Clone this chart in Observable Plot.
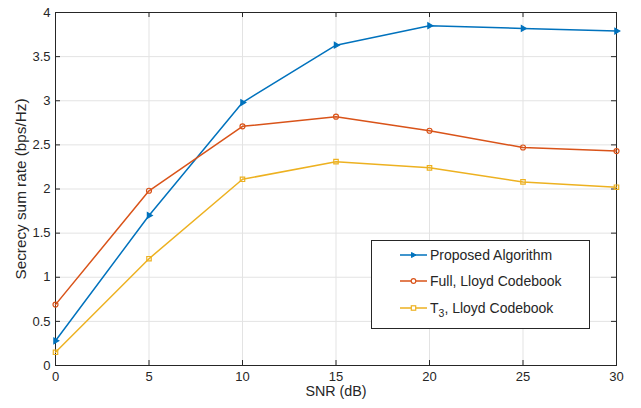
<!DOCTYPE html>
<html><head><meta charset="utf-8">
<script src="https://cdn.jsdelivr.net/npm/d3@7"></script>
<script src="https://cdn.jsdelivr.net/npm/@observablehq/plot@0.6"></script>
<style>
body{margin:0;background:#fff;font-family:"Liberation Sans",Arial,Helvetica,sans-serif}
#wrap{position:relative;width:641px;height:408px}
#legend{position:absolute;left:371px;top:240px;width:219px;height:89px;border:1px solid #262626;background:#fff;box-sizing:border-box}
.row{position:absolute;left:28px;height:20px;display:flex;align-items:center;font-size:14px;color:#262626;white-space:nowrap}
.row svg{margin-right:2px}
sub{font-size:10.5px;vertical-align:-4px;line-height:0}
</style>
</head><body><div id="wrap"></div>
<script>
const snr = [0, 5, 10, 15, 20, 25, 30];
const proposed = [0.28, 1.70, 2.98, 3.63, 3.85, 3.82, 3.79];
const fullLloyd = [0.69, 1.98, 2.71, 2.82, 2.66, 2.47, 2.43];
const t3Lloyd = [0.15, 1.21, 2.11, 2.31, 2.24, 2.08, 2.02];
const xTicks = [0, 5, 10, 15, 20, 25, 30];
const yTicks = [0, 0.5, 1, 1.5, 2, 2.5, 3, 3.5, 4];
const seriesNames = ["Proposed Algorithm", "Full, Lloyd Codebook", "T<sub>3</sub>, Lloyd Codebook"];
const seriesColors = ["#0072BD", "#D95319", "#EDB120"];
const seriesSymbols = ["triangle", "circle", "square"];
const xLabel = "SNR (dB)";
const yLabel = "Secrecy sum rate (bps/Hz)";

const width = 641, height = 408;
const mt = 12, mb = 43, ml = 55, mr = 25;
const H = height - mt - mb, W = width - ml - mr;
const axisColor = "#262626";

const seriesValues = [proposed, fullLloyd, t3Lloyd];
const data = [];
seriesValues.forEach((vals, i) => vals.forEach((v, j) => data.push({series: i, x: snr[j], y: v})));

const marks = [
  Plot.gridX(xTicks, {stroke: "#e3e3e3", strokeOpacity: 1, strokeWidth: 1}),
  Plot.gridY(yTicks, {stroke: "#e3e3e3", strokeOpacity: 1, strokeWidth: 1}),
  Plot.tickX(xTicks, {x: d => d, insetTop: H - 5, stroke: axisColor}),
  Plot.tickX(xTicks, {x: d => d, insetBottom: H - 5, stroke: axisColor}),
  Plot.tickY(yTicks, {y: d => d, insetRight: W - 5, stroke: axisColor}),
  Plot.tickY(yTicks, {y: d => d, insetLeft: W - 5, stroke: axisColor}),
  Plot.axisX(xTicks, {tickSize: 0, tickPadding: 6, fontSize: 13, fill: axisColor, label: null}),
  Plot.axisY(yTicks, {tickSize: 0, tickPadding: 5, fontSize: 13, fill: axisColor, label: null, tickFormat: d => String(d)}),
  Plot.frame({stroke: axisColor, strokeWidth: 1}),
];
seriesValues.forEach((vals, i) => {
  const d = data.filter(r => r.series === i);
  marks.push(Plot.line(d, {x: "x", y: "y", stroke: seriesColors[i], strokeWidth: 1.5}));
  marks.push(Plot.dot(d, {x: "x", y: "y", stroke: seriesColors[i], fill: i === 0 ? seriesColors[i] : "none", symbol: seriesSymbols[i], r: i === 0 ? 2.1 : 2.5, rotate: i === 0 ? 90 : 0, strokeWidth: 1.2}));
});
marks.push(Plot.text([xLabel], {text: d => d, frameAnchor: "bottom", dy: 30, fontSize: 14.3, fill: axisColor, textAnchor: "middle"}));
marks.push(Plot.text([yLabel], {text: d => d, frameAnchor: "left", dx: -34, rotate: -90, fontSize: 15.3, fill: axisColor, textAnchor: "middle"}));

const chart = Plot.plot({
  width, height,
  marginTop: mt, marginBottom: mb, marginLeft: ml, marginRight: mr,
  style: {fontFamily: "'Liberation Sans', Arial, Helvetica, sans-serif", background: "#fff"},
  x: {domain: [0, 30]},
  y: {domain: [0, 4]},
  marks
});
const wrap = document.getElementById("wrap");
wrap.appendChild(chart);

const legend = document.createElement("div");
legend.id = "legend";
const rowTops = [4, 30, 57];
seriesNames.forEach((name, i) => {
  const row = document.createElement("div");
  row.className = "row";
  row.style.top = rowTops[i] + "px";
  let sym;
  if (i === 0) sym = `<polygon points="11.5,-2.5 11.5,2.5 16,0" fill="${seriesColors[i]}" stroke="${seriesColors[i]}" stroke-width="1"/>`;
  else if (i === 1) sym = `<circle cx="13.5" cy="0" r="2.3" fill="#fff" stroke="${seriesColors[i]}" stroke-width="1.2"/>`;
  else sym = `<rect x="11.3" y="-2.2" width="4.4" height="4.4" fill="#fff" stroke="${seriesColors[i]}" stroke-width="1.2"/>`;
  row.innerHTML = `<svg width="28" height="12" viewBox="0 -6 28 12"><line x1="0" x2="27" y1="0" y2="0" stroke="${seriesColors[i]}" stroke-width="1.5"/>${sym}</svg><span>${name}</span>`;
  legend.appendChild(row);
});
wrap.appendChild(legend);
</script>
</body></html>
